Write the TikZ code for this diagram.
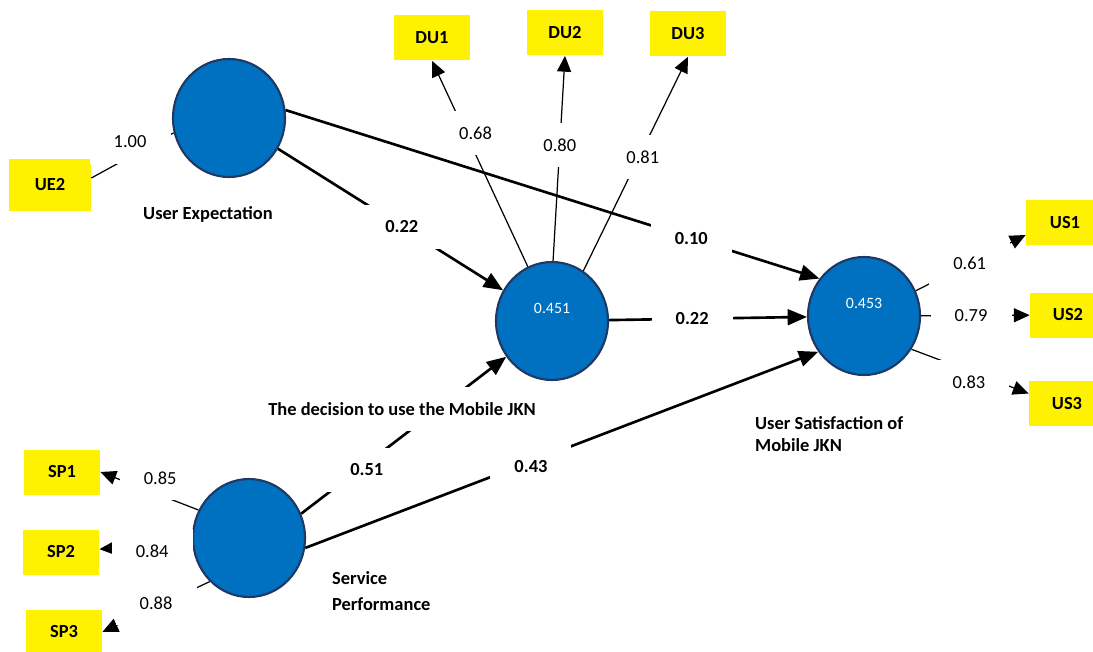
\documentclass[tikz,border=0pt]{standalone}
\usepackage{fontspec}
\setmainfont{Carlito}
\usepackage{xcolor}
\usepackage{tikz}
\usetikzlibrary{arrows.meta, shapes, positioning}
\definecolor{lvblue}{HTML}{0070C0}
\definecolor{lvborder}{HTML}{203864}
\tikzset{
    latentnode/.style = {draw=lvborder, line width=1.2pt, fill=lvblue, ellipse, 
      minimum width=2.24cm, minimum height=2.36cm, inner sep=0em, node distance=0em},
    itemnode/.style = {fill=yellow, rectangle, minimum width=1.52cm, minimum height=0.9cm, 
      inner sep=0em, node distance=0em, font=\fontsize{10.5}{12.6}\selectfont\bfseries},
    titlenode/.style = {fill=white, rectangle, inner sep=0.1em, node distance=0em, 
      font=\fontsize{10.5}{12.6}\selectfont\bfseries},
    coefnode/.style = {fill=white, rectangle, minimum width=1.62cm, minimum height=0.88cm, 
      inner sep=0em, font=\fontsize{10.5}{12.6}\selectfont\bfseries},
    loadnode/.style = {fill=white, rectangle, minimum width=1.62cm, minimum height=0.88cm, 
      inner sep=0em, font=\fontsize{10.5}{12.6}\selectfont},
    rsquare/.style = {label={[text=white, font=\fontsize{9}{10}\selectfont, yshift=0.26cm]center:#1}},
    pathline/.style = {black, line width=1.5pt, -{Triangle[length=11pt,width=9pt]}},
    loadline/.style = {black, line width=0.7pt, -{Triangle[length=9pt,width=8pt]}},
    plainline/.style = {black, line width=0.7pt}
}
\begin{document}
\begin{tikzpicture}
    \useasboundingbox (0,0) rectangle (21.86,-13.02);
    % latent variables
    \node [latentnode, name=UE] at (4.58,-2.36) {};
    \node [latentnode, rsquare=0.451, name=DU, right of = UE, xshift=6.46cm, yshift=-4.06cm] {};
    \node [latentnode, rsquare=0.453, name=US, right of = DU, xshift=6.24cm, yshift=0.10cm] {};
    \node [latentnode, name=SP, below of = UE, xshift=0.40cm, yshift=-8.40cm] {};

    % indicators
    \node [itemnode, name=UE2, left of = UE, xshift=-3.58cm, yshift=-1.34cm, 
      minimum width=1.64cm, minimum height=1.04cm] {UE2};
    \node [itemnode, name=DU1, above of = DU, xshift=-2.40cm, yshift=5.66cm] {DU1};
    \node [itemnode, name=DU2, above of = DU, xshift=0.26cm, yshift=5.76cm] {DU2};
    \node [itemnode, name=DU3, above of = DU, xshift=2.72cm, yshift=5.74cm] {DU3};
    \node [itemnode, name=US1, right of = US, xshift=4.02cm, yshift=1.87cm, minimum width=1.56cm] {US1};
    \node [itemnode, name=US2, right of = US, xshift=4.08cm, yshift=0.02cm] {US2};
    \node [itemnode, name=US3, right of = US, xshift=4.06cm, yshift=-1.75cm] {US3};
    \node [itemnode, name=SP1, left of = SP, xshift=-3.74cm, yshift=1.32cm] {SP1};
    \node [itemnode, name=SP2, left of = SP, xshift=-3.76cm, yshift=-0.28cm] {SP2};
    \node [itemnode, name=SP3, left of = SP, xshift=-3.70cm, yshift=-1.88cm] {SP3};

    % outer model
    \draw [plainline] (UE.195) -- node[loadnode, pos=0.53, yshift=0.3cm] {1.00} ([yshift=0.14cm]UE2.east);
    \draw [loadline] (DU.114) -- node[loadnode, pos=0.65, xshift=0.2cm] {0.68} (DU1.south);
    \draw [loadline] (DU.89) -- node[loadnode, pos=0.565] {0.80} (DU2.south);
    \draw [loadline] (DU.58) -- node[loadnode, pos=0.53, xshift=0.08cm] {0.81} (DU3.south);
    \draw [loadline] (US.26) -- node[loadnode, pos=0.49] {0.61} ([yshift=-0.25cm]US1.west);
    \draw [loadline] (US) -- node[loadnode, pos=0.46] {0.79} (US2);
    \draw [loadline] (US.325) -- node[loadnode, pos=0.49, yshift=-0.22cm] {0.83} ([yshift=0.2cm]US3.west);
    \draw [loadline] (SP.151) -- node[loadnode, pos=0.39, yshift=0.34cm] {0.85} (SP1.east);
    \draw [loadline] (SP) -- node[loadnode, pos=0.43, yshift=-0.12cm] {0.84} (SP2);
    \draw [loadline] (SP.228) -- node[loadnode, pos=0.5, yshift=0.08cm] {0.88} (SP3.east);

    % inner model
    \draw [pathline] (UE) -- node[coefnode, pos=0.55] {0.22} (DU);
    \draw [pathline] (UE.8) -- node[coefnode, pos=0.76] {0.10} (US.140);
    \draw [pathline] (DU) -- node[coefnode, pos=0.42] {0.22} (US);
    \draw [pathline] (SP.25) -- node[coefnode, pos=0.32, yshift=-0.13cm] {0.51} (DU.218);
    \draw [pathline] (SP.350) -- node[coefnode, pos=0.44, yshift=-0.1cm] {0.43} (US.218);

    % construct names
    \node [titlenode, name=UEtitle, below of = UE, xshift=-0.42cm, yshift=-1.92cm] {User Expectation};
    \node [titlenode, name=DUtitle, below of = DU, xshift=-3.0cm, yshift=-1.76cm, 
      minimum height=0.88cm] {The decision to use the Mobile JKN};
    \node [titlenode, name=UStitle, below of = US, anchor=west, align=left, 
      xshift=-2.22cm, yshift=-2.36cm] {User Satisfaction of\\Mobile JKN};
    \node [titlenode, name=SPtitle, right of = SP, anchor=west, align=left, 
      xshift=1.62cm, yshift=-1.06cm] {Service\\[2pt]Performance};
\end{tikzpicture}
\end{document}
